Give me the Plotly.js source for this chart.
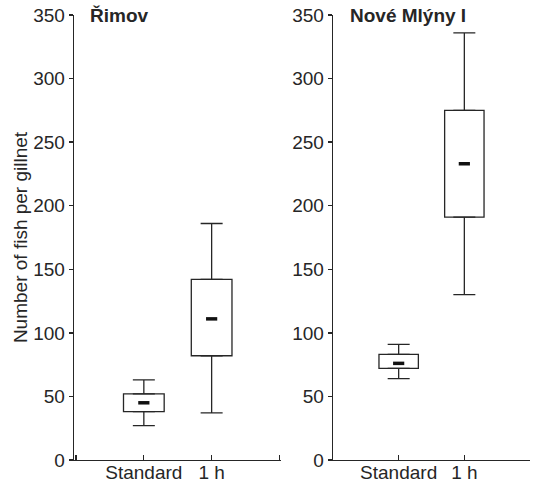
<!DOCTYPE html>
<html>
<head>
<meta charset="utf-8">
<script src="https://cdn.plot.ly/plotly-3.0.1.min.js"></script>
<style>html,body{margin:0;padding:0;background:#fff}#chart{width:533px;height:485px}</style>
</head>
<body>
<div id="chart"></div>
<script>
const categories = ['Standard', '1 h'];
const panelTitles = ['Řimov', 'Nové Mlýny I'];

// Řimov
const rimovLower  = [27, 37];
const rimovQ1     = [38, 82];
const rimovCenter = [45, 111];
const rimovQ3     = [52, 142];
const rimovUpper  = [63, 186];

// Nové Mlýny I
const noveLower  = [64, 130];
const noveQ1     = [72, 191];
const noveCenter = [76, 233];
const noveQ3     = [83, 275];
const noveUpper  = [91, 336];

const yTicks = [0, 50, 100, 150, 200, 250, 300, 350];

const ink = '#262626';
const font = 'Liberation Sans, Arial, sans-serif';
const xpos = categories.map((c, i) => i + 1);

function panel(lower, q1, center, q3, upper, xa, ya) {
  return [
    {
      type: 'bar', x: xpos, base: q1, y: q3.map((v, i) => v - q1[i]),
      width: 0.6, xaxis: xa, yaxis: ya, showlegend: false, hoverinfo: 'skip',
      marker: {color: '#ffffff', line: {color: ink, width: 1.3}}
    },
    {
      type: 'scatter', mode: 'markers', x: xpos, y: q3, xaxis: xa, yaxis: ya,
      showlegend: false, hoverinfo: 'skip',
      marker: {size: 1, color: 'rgba(0,0,0,0)'},
      error_y: {type: 'data', symmetric: false, array: upper.map((v, i) => v - q3[i]),
                arrayminus: q3.map(() => 0), width: 11, thickness: 1.3, color: ink}
    },
    {
      type: 'scatter', mode: 'markers', x: xpos, y: q1, xaxis: xa, yaxis: ya,
      showlegend: false, hoverinfo: 'skip',
      marker: {size: 1, color: 'rgba(0,0,0,0)'},
      error_y: {type: 'data', symmetric: false, array: q1.map(() => 0),
                arrayminus: q1.map((v, i) => v - lower[i]), width: 11, thickness: 1.3, color: ink}
    },
    {
      type: 'scatter', mode: 'markers', x: xpos, y: center, xaxis: xa, yaxis: ya,
      showlegend: false, hoverinfo: 'skip',
      marker: {symbol: 'line-ew', size: 8, line: {color: '#111', width: 3.5}}
    }
  ];
}

const data = [].concat(
  panel(rimovLower, rimovQ1, rimovCenter, rimovQ3, rimovUpper, 'x', 'y'),
  panel(noveLower, noveQ1, noveCenter, noveQ3, noveUpper, 'x2', 'y2')
);

const xCommon = {
  tickmode: 'array', tickvals: [0].concat(xpos, [categories.length + 1]),
  ticktext: [''].concat(categories, ['']),
  ticks: 'inside', ticklen: 5, tickwidth: 1.3, tickcolor: ink,
  showline: true, linecolor: ink, linewidth: 1.3, showgrid: false, zeroline: false,
  ticklabelstandoff: -5,
  tickfont: {family: font, size: 19, color: ink}, fixedrange: true
};
const yCommon = {
  range: [0, 350], tickmode: 'array', tickvals: yTicks,
  ticks: 'outside', ticklen: 4, tickwidth: 1.3, tickcolor: ink,
  showline: true, linecolor: ink, linewidth: 1.3, showgrid: false, zeroline: false,
  tickfont: {family: font, size: 19, color: ink}, fixedrange: true
};

const layout = {
  width: 533, height: 485,
  margin: {l: 74, r: 3, t: 15, b: 25},
  paper_bgcolor: '#fff', plot_bgcolor: '#fff',
  showlegend: false,
  xaxis: Object.assign({}, xCommon, {domain: [0, 0.455], range: [-0.03, 3.03], anchor: 'y'}),
  xaxis2: Object.assign({}, xCommon, {domain: [0.568, 1], range: [0, 3.0], anchor: 'y2'}),
  yaxis: Object.assign({}, yCommon, {anchor: 'x',
    title: {text: 'Number of fish per gillnet', font: {family: font, size: 19, color: ink}, standoff: 0}}),
  yaxis2: Object.assign({}, yCommon, {anchor: 'x2'}),
  annotations: [
    {text: '<b>' + panelTitles[0] + '</b>', xref: 'paper', yref: 'paper', x: 0.031, y: 1.0,
     xanchor: 'left', yanchor: 'middle', showarrow: false, font: {family: font, size: 19, color: ink}},
    {text: '<b>' + panelTitles[1] + '</b>', xref: 'paper', yref: 'paper', x: 0.601, y: 1.0,
     xanchor: 'left', yanchor: 'middle', showarrow: false, font: {family: font, size: 19, color: ink}}
  ]
};

Plotly.newPlot('chart', data, layout, {displayModeBar: false, staticPlot: true});
</script>
</body>
</html>
